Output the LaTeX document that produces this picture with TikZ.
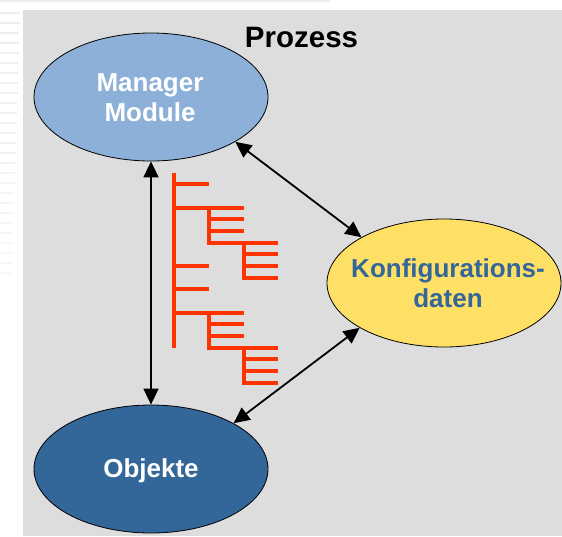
\documentclass[tikz,border=0pt]{standalone}
\usepackage{fontspec}
\setmainfont{Liberation Sans}
\usetikzlibrary{arrows.meta,shapes.geometric}
\definecolor{panel}{HTML}{DDDDDD}
\definecolor{mgr}{HTML}{8DB0D8}
\definecolor{objc}{HTML}{336699}
\definecolor{konf}{HTML}{FFE066}
\definecolor{treered}{HTML}{FF3300}
\definecolor{stripe}{HTML}{EDEDED}
\begin{document}
\begin{tikzpicture}[x=1pt,y=-1pt,
  ell/.style={ellipse, draw=black, line width=0.8pt, minimum width=234pt, minimum height=128pt, inner sep=0pt},
  lbl/.style={text=white, font=\bfseries\fontsize{26}{30}\selectfont, align=center, inner sep=0pt},
  dbl/.style={{Triangle[length=16pt,width=15pt]}-{Triangle[length=16pt,width=15pt]}, line width=1.8pt},
  treeline/.style={treered, line width=4.2pt, line cap=butt, line join=miter}]
\fill[white] (0,0) rectangle (562,536);
\useasboundingbox (0,0) rectangle (562,536);
% left stripes
\fill[stripe] (0,0) rectangle (330,2);
\foreach \yy in {13,23,...,273} {
  \pgfmathsetmacro{\len}{20-(\yy-13)/260*8}
  \pgfmathsetmacro{\shade}{100-(\yy-13)/260*60}
  \draw[stripe!\shade!white, line width=1.5pt] (0,\yy) -- (\len,\yy);
}
% panel
\fill[panel] (23,10) rectangle (562,536);
% title
\node[anchor=base, inner sep=0pt, font=\bfseries\fontsize{29.5}{34}\selectfont] (title) at (301.5,47) {Prozess};
% ellipses
\node[ell, fill=mgr] (mm) at (151,97) {};
\node[ell, fill=objc] (obj) at (151,469) {};
\node[ell, fill=konf] (kd) at (444,283) {};
\node[lbl] (mmt) at (150,97.5) {Manager\\Module};
\node[lbl, text=objc] (kdt) at (448,283.5) {Konfigurations-\\daten};
\node[lbl, anchor=base] (objt) at (151,477) {Objekte};
% arrows
\draw[dbl] (mm.south) -- (obj.north);
\draw[dbl] (mm.-28) -- (kd.151);
\draw[dbl] (kd.208) -- (obj.29);
% red tree
\draw[treeline] (174,172.67) -- (174,347.67);
\draw[treeline] (174,184.33) -- (209,184.33);
\draw[treeline] (174,207.67) -- (244,207.67);
\draw[treeline] (174,266) -- (209,266);
\draw[treeline] (174,289.33) -- (209,289.33);
\draw[treeline] (174,312.67) -- (244,312.67);
% sub 1
\draw[treeline] (209,207.67) -- (209,242.67) -- (278,242.67);
\draw[treeline] (209,219.33) -- (244,219.33);
\draw[treeline] (209,231) -- (244,231);
\draw[treeline] (244,242.67) -- (244,277.67) -- (278,277.67);
\draw[treeline] (244,254.33) -- (278,254.33);
\draw[treeline] (244,266) -- (278,266);
% sub 2
\draw[treeline] (209,312.67) -- (209,347.67) -- (278,347.67);
\draw[treeline] (209,324.33) -- (244,324.33);
\draw[treeline] (209,336) -- (244,336);
\draw[treeline] (244,347.67) -- (244,382.67) -- (278,382.67);
\draw[treeline] (244,359.33) -- (278,359.33);
\draw[treeline] (244,371) -- (278,371);
\end{tikzpicture}
\end{document}
